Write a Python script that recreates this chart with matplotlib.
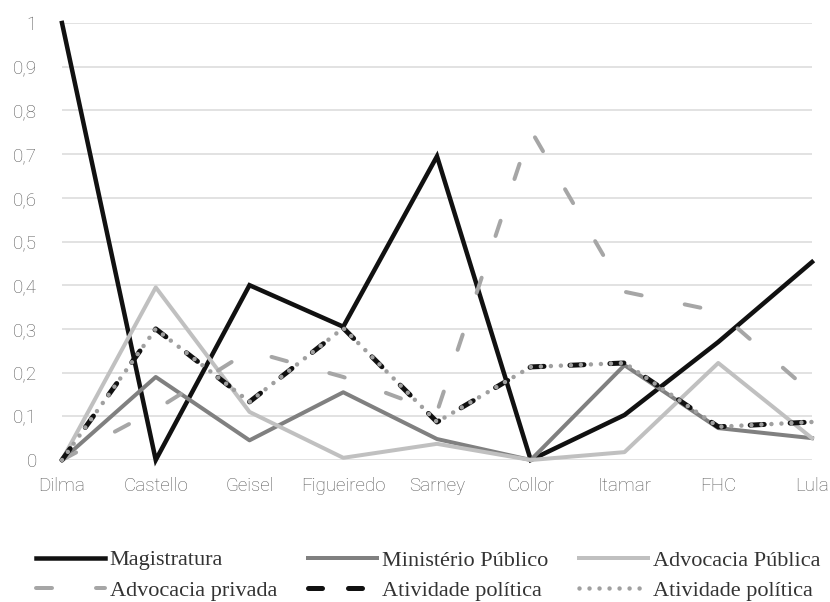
import matplotlib
matplotlib.use("Agg")
import matplotlib.pyplot as plt
from matplotlib.ticker import FixedLocator, FuncFormatter

categories = ["Dilma", "Castello", "Geisel", "Figueiredo", "Sarney", "Collor", "Itamar", "FHC", "Lula"]
magistratura = [1.0, 0.0, 0.40, 0.305, 0.695, 0.0, 0.103, 0.27, 0.453]
ministerio = [0.0, 0.19, 0.045, 0.155, 0.048, 0.0, 0.217, 0.073, 0.05]
adv_publica = [0.0, 0.395, 0.11, 0.005, 0.037, 0.0, 0.018, 0.222, 0.05]
adv_privada = [0.0, 0.115, 0.25, 0.19, 0.11, 0.755, 0.385, 0.34, 0.153]
ativ_politica = [0.0, 0.30, 0.133, 0.302, 0.087, 0.213, 0.222, 0.076, 0.087]
ativ_politica2 = [0.0, 0.30, 0.133, 0.302, 0.087, 0.213, 0.222, 0.076, 0.087]
yticks = [0, 0.1, 0.2, 0.3, 0.4, 0.5, 0.6, 0.7, 0.8, 0.9, 1.0]

plt.rcParams['lines.scale_dashes'] = False
px = 72 / 100.0

fig = plt.figure(figsize=(8.3, 6.02), dpi=100)
ax = fig.add_axes([62 / 830, (602 - 460) / 602, (812 - 62) / 830, (460 - 23) / 602])
x = list(range(len(categories)))

h1, = ax.plot(x, magistratura, color="#111111", lw=4.5 * px, solid_joinstyle="miter",
              label="Magistratura", clip_on=False, zorder=3)
h2, = ax.plot(x, ministerio, color="#808080", lw=4 * px, label="Ministério Público",
              clip_on=False, zorder=3)
h3, = ax.plot(x, adv_publica, color="#c0c0c0", lw=4 * px, label="Advocacia Pública",
              clip_on=False, zorder=3)
h4, = ax.plot(x, adv_privada, color="#a6a6a6", lw=4 * px, dash_capstyle="round",
              label="Advocacia privada", clip_on=False, zorder=3)
h4.set_dashes((16 * px, 44 * px))
h5, = ax.plot(x, ativ_politica, color="#111111", lw=5 * px, dash_capstyle="round",
              label="Atividade política", clip_on=False, zorder=3)
h5.set_dashes((14 * px, 26 * px))
h6, = ax.plot(x, ativ_politica2, color="#a0a0a0", lw=4.5 * px, dash_capstyle="round",
              label="Atividade política", clip_on=False, zorder=3)
h6.set_dashes((0.01, 10 * px))

ax.set_xlim(0, 8)
ax.set_ylim(0, 1)
ax.yaxis.set_major_locator(FixedLocator(yticks))
ax.yaxis.set_major_formatter(FuncFormatter(lambda v, p: ("%g" % round(v, 1)).replace(".", ",")))
ax.set_xticks(x)
ax.set_xticklabels(categories)
ax.grid(axis="y", color="#d9d9d9", lw=1.5 * px, zorder=0)
ax.set_axisbelow(True)
for s in ax.spines.values():
    s.set_visible(False)
ax.tick_params(axis="both", length=0, labelcolor="#595959", labelsize=13.5)
ax.tick_params(axis="y", pad=18)
ax.tick_params(axis="x", pad=12)
for lab in ax.get_xticklabels() + ax.get_yticklabels():
    lab.set_fontfamily(["Roboto", "DejaVu Sans"])
    lab.set_fontweight("light")

handles = [h1, h4, h2, h5, h3, h6]
leg = fig.legend(handles=handles, labels=[h.get_label() for h in handles], ncol=3,
                 loc="center left", bbox_to_anchor=(36 / 830, (602 - 575.5) / 602),
                 borderaxespad=0, borderpad=0,
                 frameon=False, prop={"family": ["Liberation Serif", "DejaVu Serif"], "size": 16},
                 handlelength=3.1, handletextpad=0.22, columnspacing=1.4, labelspacing=0.45)
for t in leg.get_texts():
    t.set_color("#333333")

fig.savefig("out.png", dpi=100)
